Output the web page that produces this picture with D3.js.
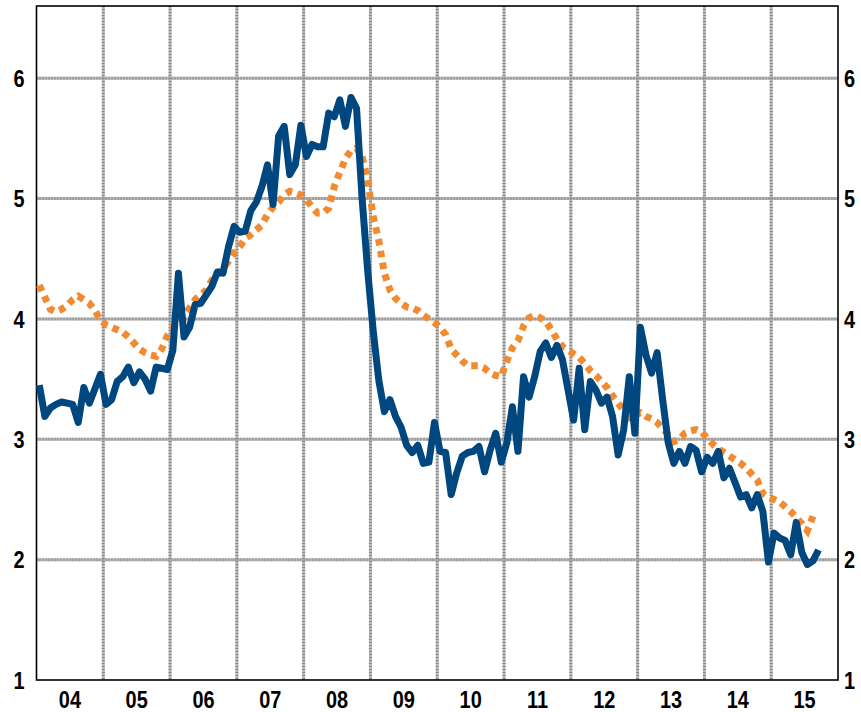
<!DOCTYPE html>
<meta charset="utf-8">
<style>
body { margin: 0; background: #fff; }
.label {
  font-family: "Liberation Sans", Arial, sans-serif;
  font-weight: bold;
  font-size: 24px;
  fill: #000;
}
</style>
<svg width="861" height="712"></svg>
<script src="https://d3js.org/d3.v7.min.js"></script>
<script>

// monthly, starting January 2004
var startYear = 2004;

var blueSeries = [
  3.45, 3.19, 3.26, 3.29, 3.31, 3.30, 3.29, 3.14, 3.43, 3.30, 3.42, 3.54,
  3.29, 3.33, 3.48, 3.52, 3.60, 3.47, 3.56, 3.50, 3.40, 3.60, 3.59, 3.58,
  3.74, 4.38, 3.85, 3.93, 4.12, 4.13, 4.20, 4.27, 4.39, 4.38, 4.60, 4.77,
  4.72, 4.73, 4.90, 4.97, 5.10, 5.28, 4.95, 5.52, 5.60, 5.20, 5.28, 5.61,
  5.35, 5.45, 5.43, 5.43, 5.71, 5.68, 5.82, 5.60, 5.84, 5.75, 5.00, 4.40,
  3.90, 3.49, 3.23, 3.33, 3.19, 3.10, 2.95, 2.89, 2.95, 2.80, 2.81, 3.14,
  2.90, 2.89, 2.54, 2.72, 2.86, 2.89, 2.90, 2.94, 2.73, 2.91, 3.05, 2.81,
  2.97, 3.27, 2.90, 3.52, 3.35, 3.52, 3.73, 3.80, 3.68, 3.78, 3.66, 3.41,
  3.16, 3.59, 3.08, 3.48, 3.41, 3.30, 3.35, 3.19, 2.87, 3.08, 3.52, 3.05,
  3.93, 3.70, 3.55, 3.72, 3.33, 2.97, 2.80, 2.90, 2.80, 2.94, 2.91, 2.73,
  2.85, 2.80, 2.90, 2.68, 2.76, 2.64, 2.52, 2.54, 2.43, 2.54, 2.40, 1.98,
  2.22, 2.18, 2.16, 2.04, 2.31, 2.06, 1.96, 1.99, 2.08
];

var orangeSeries = [
  4.28, 4.18, 4.08, 4.06, 4.08, 4.11, 4.16, 4.19, 4.16, 4.13, 4.07, 3.99,
  3.95, 3.93, 3.91, 3.89, 3.85, 3.80, 3.75, 3.72, 3.70, 3.69, 3.75, 3.86,
  3.92, 3.98, 4.03, 4.09, 4.16, 4.20, 4.24, 4.32, 4.37, 4.42, 4.48, 4.55,
  4.60, 4.67, 4.70, 4.74, 4.78, 4.87, 4.93, 4.97, 5.03, 5.06, 5.05, 5.03,
  4.99, 4.93, 4.88, 4.88, 4.92, 5.10, 5.22, 5.33, 5.40, 5.42, 5.35, 5.15,
  4.85, 4.65, 4.38, 4.24, 4.17, 4.13, 4.10, 4.09, 4.07, 4.03, 4.00, 3.97,
  3.93, 3.87, 3.75, 3.70, 3.65, 3.61, 3.61, 3.61, 3.59, 3.55, 3.53, 3.52,
  3.65, 3.76, 3.82, 3.94, 4.01, 4.03, 4.01, 3.98, 3.91, 3.83, 3.77, 3.74,
  3.71, 3.68, 3.63, 3.57, 3.53, 3.48, 3.43, 3.36, 3.30, 3.24, 3.18, 3.20,
  3.22, 3.19, 3.17, 3.14, 3.09, 3.04, 2.98, 3.00, 3.05, 3.07, 3.08, 3.06,
  3.01, 2.96, 2.92, 2.89, 2.86, 2.83, 2.80, 2.76, 2.71, 2.66, 2.55, 2.52,
  2.50, 2.48, 2.44, 2.40, 2.35, 2.30, 2.24, 2.36
];

var yearLabels = ["04", "05", "06", "07", "08", "09", "10", "11", "12", "13", "14", "15"];
var yTicks = [1, 2, 3, 4, 5, 6];

var svg = d3.select("svg");
var plotLeft = 36.5, plotRight = 838, plotTop = 6, plotBottom = 680;
var narrow = 0.83; // squeeze the bold labels, the original uses a condensed face

var x = d3.scaleLinear().domain([2004, 2016]).range([plotLeft, plotRight]);
var y = d3.scaleLinear().domain([1, 6.6]).range([plotBottom, plotTop]);

function monthX(d, i) { return x(startYear + (i + 0.5) / 12); }

// grid
var grid = svg.append("g");
var yearBounds = d3.range(2005, 2016);

[["#b8b8b8", null], ["#8a8a8a", "1,2"]].forEach(function(s) {
  grid.selectAll(null)
    .data(yearBounds)
    .enter().append("line")
    .attr("x1", function(d) { return x(d); })
    .attr("x2", function(d) { return x(d); })
    .attr("y1", plotTop).attr("y2", plotBottom)
    .attr("stroke", s[0]).attr("stroke-width", 3)
    .attr("stroke-dasharray", s[1]);
  grid.selectAll(null)
    .data(yTicks.filter(function(d) { return d > 1; }))
    .enter().append("line")
    .attr("x1", plotLeft).attr("x2", plotRight)
    .attr("y1", function(d) { return y(d); })
    .attr("y2", function(d) { return y(d); })
    .attr("stroke", s[0]).attr("stroke-width", 3)
    .attr("stroke-dasharray", s[1]);
});

// frame
svg.append("rect")
  .attr("x", plotLeft).attr("y", plotTop)
  .attr("width", plotRight - plotLeft).attr("height", plotBottom - plotTop)
  .attr("fill", "none").attr("stroke", "#000").attr("stroke-width", 1.6);

// series
var line = d3.line()
  .x(monthX)
  .y(function(d) { return y(d); });

svg.append("path")
  .datum(orangeSeries)
  .attr("d", line)
  .attr("fill", "none")
  .attr("stroke", "#f28a30")
  .attr("stroke-width", 7)
  .attr("stroke-dasharray", "6.5,5.5");

svg.append("path")
  .datum(blueSeries)
  .attr("d", line)
  .attr("fill", "none")
  .attr("stroke", "#00477f")
  .attr("stroke-width", 7)
  .attr("stroke-linejoin", "round");

// labels
function place(px, py) {
  return "translate(" + px + "," + py + ") scale(" + narrow + ",1)";
}

svg.selectAll(".ly")
  .data(yTicks)
  .enter().append("text")
  .attr("class", "label")
  .attr("transform", function(d) { return place(plotLeft - 12, y(d)); })
  .attr("dy", "0.36em")
  .attr("text-anchor", "end")
  .text(function(d) { return d; });

svg.selectAll(".ry")
  .data(yTicks)
  .enter().append("text")
  .attr("class", "label")
  .attr("transform", function(d) { return place(plotRight + 6, y(d)); })
  .attr("dy", "0.36em")
  .text(function(d) { return d; });

svg.selectAll(".lx")
  .data(yearLabels)
  .enter().append("text")
  .attr("class", "label")
  .attr("transform", function(d, i) { return place(x(startYear + i + 0.5), 708); })
  .attr("text-anchor", "middle")
  .text(function(d) { return d; });

</script>
